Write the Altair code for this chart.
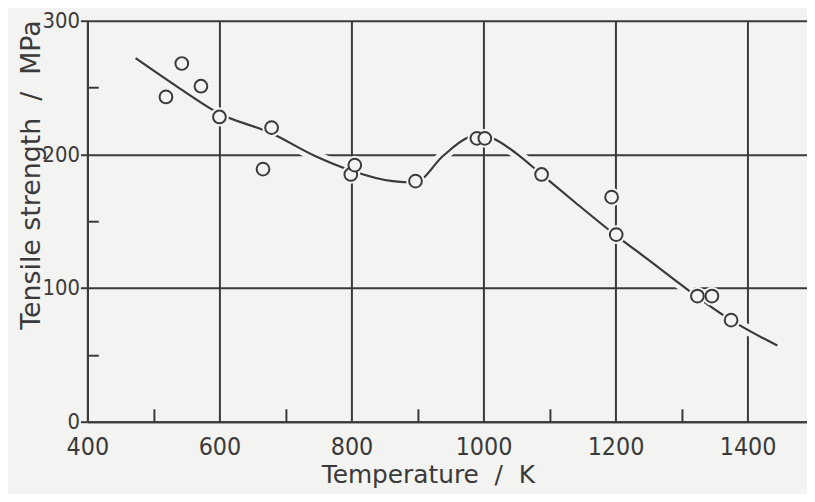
import altair as alt
import pandas as pd

# Measured points (temperature K, tensile strength MPa)
temp_pts = [519, 543, 572, 600, 666, 679, 799, 805, 897, 990, 1002, 1088, 1194, 1201, 1324, 1346, 1375]
strength_pts = [243, 268, 251, 228, 189, 220, 185, 192, 180, 212, 212, 185, 168, 140, 94, 94, 76]

# Hand-drawn trend curve
curve_temp = [473, 538, 598, 678, 744, 799, 862, 896, 939, 974, 994, 1014, 1049, 1088, 1139, 1199, 1250, 1290, 1322, 1375, 1445]
curve_strength = [272, 250, 231, 216, 199, 188, 180, 179, 199, 212, 215, 212, 201, 185, 164, 140, 121, 106, 94, 76, 57]

x_major = [400, 600, 800, 1000, 1200, 1400]
x_minor = [500, 700, 900, 1100, 1300]
y_major = [0, 100, 200, 300]
y_minor = [50, 150, 250]

BG = "#f3f3f1"
INK = "#3a3a3a"
FONT = "DejaVu Sans"
FONT_C = "DejaVu Sans Condensed"

pts = pd.DataFrame({"T": temp_pts, "S": strength_pts})
crv = pd.DataFrame({"T": curve_temp, "S": curve_strength})

xscale = alt.Scale(domain=[400, 1490], nice=False, zero=False)
yscale = alt.Scale(domain=[0, 300], nice=False, zero=True)

x_main = alt.Axis(
    orient="bottom", values=x_major, format="d", grid=True, gridColor=INK, gridWidth=2,
    domain=True, domainColor=INK, domainWidth=2, ticks=False, labelFlush=False,
    labelFont=FONT_C, labelFontSize=25, labelColor=INK, labelPadding=13,
    title="Temperature\u00a0\u00a0/\u00a0\u00a0K", titleFont=FONT, titleFontSize=25,
    titleFontWeight="normal", titleColor=INK, titleX=343, titleY=61,
    titleAlign="center", titleBaseline="alphabetic",
)
y_main = alt.Axis(
    orient="left", values=y_major, format="d", grid=True, gridColor=INK, gridWidth=2,
    domain=True, domainColor=INK, domainWidth=2, ticks=True, tickSize=7,
    tickWidth=2, tickColor=INK, labelFont=FONT_C, labelFontSize=22,
    labelColor=INK, labelPadding=1, labelFlush=False,
    title="Tensile strength\u00a0\u00a0/\u00a0\u00a0MPa", titleFont=FONT, titleFontSize=27,
    titleFontWeight="normal", titleColor=INK, titleAngle=270, titleX=-48,
    titleY=155, titleAlign="center", titleBaseline="alphabetic",
)
x_minor_axis = alt.Axis(
    orient="bottom", values=x_minor, offset=-13, tickSize=13, tickWidth=2,
    tickColor=INK, labels=False, domain=False, grid=False, title=None,
)
y_minor_axis = alt.Axis(
    orient="left", values=y_minor, offset=-11, tickSize=11, tickWidth=2,
    tickColor=INK, labels=False, domain=False, grid=False, title=None,
)

halo = alt.Chart(crv).mark_line(color=BG, strokeWidth=11, interpolate="monotone").encode(
    x=alt.X("T:Q", scale=xscale, axis=x_main),
    y=alt.Y("S:Q", scale=yscale, axis=y_main),
)
line = alt.Chart(crv).mark_line(color=INK, strokeWidth=2.2, interpolate="monotone").encode(
    x=alt.X("T:Q", scale=xscale, axis=x_minor_axis),
    y=alt.Y("S:Q", scale=yscale, axis=y_minor_axis),
)
pt_halo = alt.Chart(pts).mark_circle(color=BG, opacity=1, size=360).encode(
    x=alt.X("T:Q", scale=xscale, axis=None),
    y=alt.Y("S:Q", scale=yscale, axis=None),
)
points = alt.Chart(pts).mark_circle(
    fill=BG, stroke=INK, strokeWidth=2, opacity=1, fillOpacity=1, size=165
).encode(
    x=alt.X("T:Q", scale=xscale, axis=None),
    y=alt.Y("S:Q", scale=yscale, axis=None),
)

chart = (
    alt.layer(halo, line, pt_halo, points)
    .resolve_axis(x="independent", y="independent")
    .properties(
        width=725,
        height=404,
        autosize=alt.AutoSizeParams(type="none"),
        padding={"left": 80, "top": 11, "right": 0, "bottom": 71},
        background=BG,
    )
    .configure_view(strokeWidth=0)
)

chart.save("out.html", embed_options={"renderer": "svg", "actions": False})
